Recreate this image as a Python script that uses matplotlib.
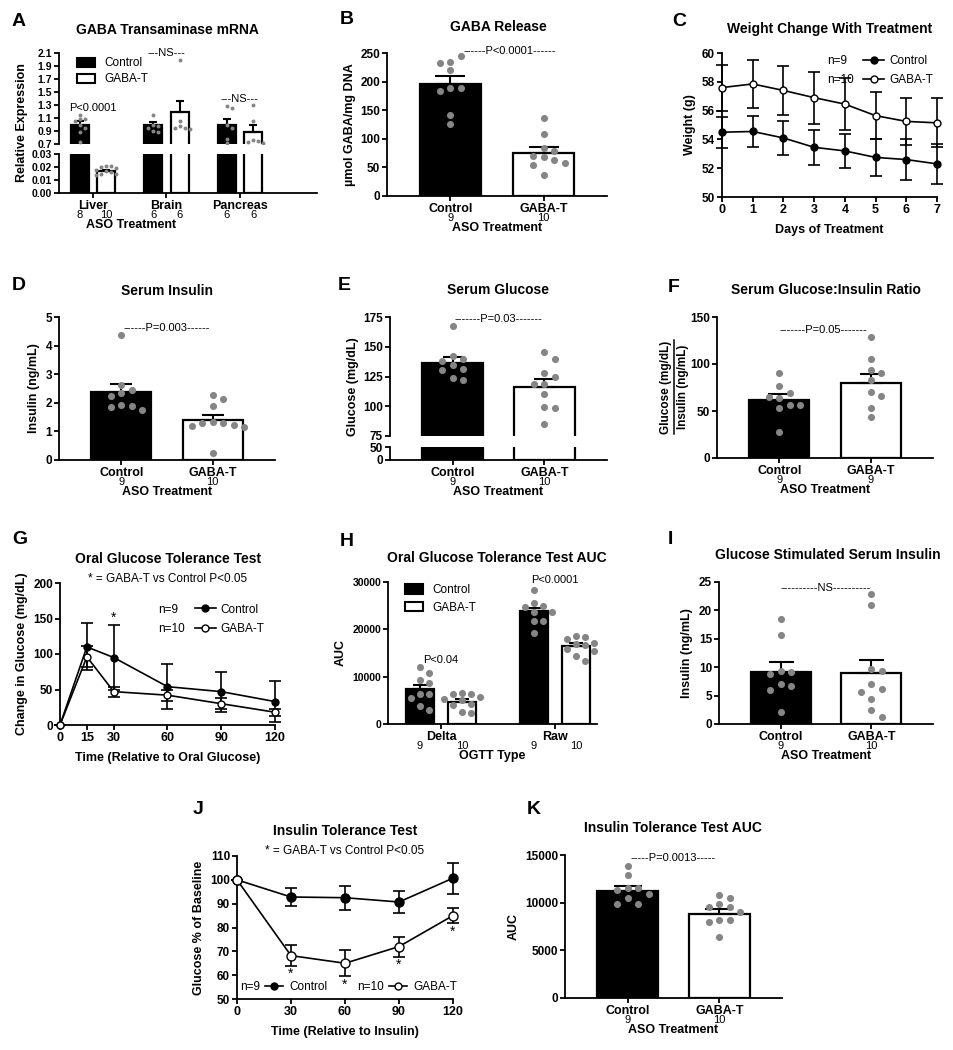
import numpy as np
import matplotlib.pyplot as plt
from matplotlib.lines import Line2D
from matplotlib.patches import Patch

plt.rcParams['font.family'] = ['Liberation Sans', 'DejaVu Sans']
plt.rcParams['font.weight'] = 'bold'
plt.rcParams['axes.labelweight'] = 'bold'
plt.rcParams['axes.linewidth'] = 1.3
plt.rcParams['xtick.major.width'] = 1.3
plt.rcParams['ytick.major.width'] = 1.3
plt.rcParams['xtick.major.size'] = 3.5
plt.rcParams['ytick.major.size'] = 3.5
plt.rcParams['xtick.major.pad'] = 1.5
plt.rcParams['ytick.major.pad'] = 1.5
plt.rcParams['xtick.labelsize'] = 9
plt.rcParams['ytick.labelsize'] = 8.5
plt.rcParams['axes.labelsize'] = 9

# ---------------- data ----------------
# A  GABA transaminase mRNA
a_tissues = ["Liver", "Brain", "Pancreas"]
a_n_ctrl = [8, 6, 6]
a_n_gaba = [10, 6, 6]
a_ctrl_mean = [1.0, 1.0, 1.0]
a_ctrl_sem = [0.05, 0.04, 0.09]
a_gaba_mean = [0.017, 1.2, 0.89]
a_gaba_sem = [0.001, 0.16, 0.11]
a_ctrl_pts = [[1.15, 1.08, 1.08, 1.05, 1.0, 0.95, 0.88, 0.73],
              [1.15, 1.0, 0.98, 0.95, 0.9, 0.88],
              [1.28, 1.25, 1.0, 0.95, 0.78, 0.72]]
a_gaba_pts = [[0.021, 0.021, 0.020, 0.019, 0.018, 0.017, 0.016, 0.015, 0.015, 0.014],
              [2.0, 1.05, 0.97, 0.95, 0.95, 0.93],
              [1.3, 1.05, 0.76, 0.75, 0.73, 0.72]]

groups = ["Control", "GABA-T"]

# B  GABA release
b_mean = [195, 75]
b_sem = [14, 10]
b_ctrl = [235, 244, 232, 220, 189, 189, 183, 141, 126]
b_gaba = [136, 109, 84, 78, 70, 69, 63, 58, 55, 37]
b_n = [9, 10]

# C  weight change
c_days = [0, 1, 2, 3, 4, 5, 6, 7]
c_ctrl = [54.5, 54.55, 54.1, 53.45, 53.2, 52.75, 52.6, 52.3]
c_ctrl_sd = [1.07, 1.07, 1.15, 1.2, 1.2, 1.3, 1.4, 1.4]
c_gaba = [57.6, 57.85, 57.4, 56.9, 56.45, 55.65, 55.25, 55.15]
c_gaba_sd = [1.6, 1.65, 1.7, 1.8, 1.8, 1.65, 1.65, 1.7]

# D  serum insulin
d_mean = [2.38, 1.4]
d_sem = [0.27, 0.18]
d_ctrl = [4.36, 2.62, 2.44, 2.33, 2.24, 1.92, 1.9, 1.86, 1.74]
d_gaba = [2.26, 2.13, 1.9, 1.33, 1.31, 1.31, 1.24, 1.2, 1.14, 0.26]
d_n = [9, 10]

# E  serum glucose
e_mean = [136, 116]
e_sem = [5, 6.5]
e_ctrl = [167.5, 142, 140, 138, 134.5, 131.5, 130.5, 124, 122]
e_gaba = [146, 140, 128, 124.5, 119, 119, 110, 99, 98.5, 85]
e_n = [9, 10]

# F  glucose:insulin ratio
f_mean = [62, 80]
f_sem = [6, 9]
f_ctrl = [90, 77, 69, 64, 64.5, 56.5, 53.5, 56.5, 28]
f_gaba = [129, 105, 93.5, 90, 83, 70, 66, 53, 44]
f_n = [9, 9]

# G  OGTT
g_time = [0, 15, 30, 60, 90, 120]
g_ctrl = [0, 110, 95, 54, 47, 33]
g_ctrl_err = [0, 33, 46, 32, 28, 29]
g_gaba = [0, 96, 47, 42, 30, 18]
g_gaba_err = [0, 15, 7, 8, 8, 5]
g_stars = [30]

# H  OGTT AUC
h_types = ["Delta", "Raw"]
h_ctrl_mean = [7300, 23800]
h_ctrl_sem = [1000, 800]
h_gaba_mean = [4750, 16500]
h_gaba_sem = [500, 600]
h_ctrl_pts = [[12000, 10700, 9300, 8600, 6300, 6300, 5400, 3700, 3000],
              [28400, 25600, 24900, 24700, 23600, 23600, 21700, 21700, 19200]]
h_gaba_pts = [[6600, 6400, 6300, 5600, 5300, 5000, 4300, 4100, 2600, 2400],
              [18500, 18300, 18000, 17200, 16800, 16600, 15800, 15500, 14300, 13300]]
h_n_ctrl = [9, 9]
h_n_gaba = [10, 10]
h_notes = ["P<0.04", "P<0.0001"]

# I  glucose stimulated insulin
i_mean = [9.2, 8.9]
i_sem = [1.7, 2.4]
i_ctrl = [18.5, 15.6, 9.4, 9.2, 8.8, 7.1, 6.7, 5.9, 2.2]
i_gaba = [22.8, 20.9, 9.6, 9.4, 7.1, 6.1, 5.7, 4.4, 2.5, 1.2]
i_n = [9, 10]

# J  ITT
j_time = [0, 30, 60, 90, 120]
j_ctrl = [100, 92.8, 92.5, 90.7, 100.7]
j_ctrl_err = [0, 3.8, 5.0, 4.5, 6.5]
j_gaba = [100, 68.2, 65.0, 72.0, 85.0]
j_gaba_err = [0, 4.3, 5.5, 4.2, 3.3]
j_stars = [30, 60, 90, 120]

# K  ITT AUC
k_mean = [11250, 8850]
k_sem = [450, 450]
k_ctrl = [13800, 12900, 11500, 11500, 11300, 10900, 10500, 9900, 9900]
k_gaba = [10800, 10500, 9860, 9580, 9580, 9050, 8170, 8170, 8000, 6420]
k_n = [9, 10]

# ---------------- helpers ----------------
W, H = 954, 1050
fig = plt.figure(figsize=(W / 100, H / 100), dpi=100)
GREY = '#858585'


def box(l, t, r, b):
    return fig.add_axes([l / W, 1 - b / H, (r - l) / W, (b - t) / H])


def ftext(x, y, s, **kw):
    kw.setdefault('ha', 'center')
    kw.setdefault('va', 'center')
    fig.text(x / W, 1 - y / H, s, **kw)


def clean(ax):
    ax.spines['top'].set_visible(False)
    ax.spines['right'].set_visible(False)


def offsets():
    yield 0
    for k in range(1, 40):
        yield k
        yield -k


def swarm(ax, x0, vals, s=26, step=10.5):
    # simple beeswarm in pixel space so points sit side by side like the original
    disp = ax.transData.transform(np.column_stack([np.full(len(vals), x0), vals]))
    placed = []
    for px_, py_ in disp:
        for k in offsets():
            cand = px_ + k * step
            if all(np.hypot(cand - qx, py_ - qy) >= step * 0.78 for qx, qy in placed):
                break
        placed.append((cand, py_))
    pts = ax.transData.inverted().transform(np.array(placed))
    ax.scatter(pts[:, 0], pts[:, 1], s=s, color=GREY, linewidths=0, zorder=4)


def bar_pair(ax, xs, means, sems, faces, width, cap):
    ax.bar(xs, means, width, color=faces, edgecolor='black', linewidth=1.6, zorder=2)
    ax.errorbar(xs, means, yerr=[np.zeros(len(means)), sems], fmt='none', ecolor='black',
                elinewidth=1.5, capsize=cap, capthick=1.5, zorder=3)


def n_labels(ax, xs, ns):
    for x, n in zip(xs, ns):
        ax.annotate(str(n), xy=(x, 0), xycoords=('data', 'axes fraction'),
                    xytext=(0, -12.5), textcoords='offset points',
                    ha='center', va='top', fontsize=8, fontweight='normal')


def note(ax, x, y, s):
    ax.text(x, y, s, ha='center', va='center', fontsize=8, fontweight='normal')


def two_bar(ax, means, sems, ctrl, gaba, ns, ylim, yticks, cap):
    xs = np.arange(2)
    ax.set_xlim(-0.68, 1.68)
    ax.set_ylim(*ylim)
    bar_pair(ax, xs, means, sems, ['black', 'white'], 0.66, cap)
    swarm(ax, 0, ctrl)
    swarm(ax, 1, gaba)
    ax.set_xticks(xs, groups)
    ax.set_yticks(yticks)
    ax.set_xlabel('ASO Treatment', labelpad=5)
    n_labels(ax, xs, ns)
    clean(ax)


def line_legend(ax, labels_n, anchor, loc):
    empty = Line2D([], [], linestyle='none')
    hc = Line2D([], [], color='black', marker='o', mfc='black', ms=5, lw=1.2)
    hg = Line2D([], [], color='black', marker='o', mfc='white', ms=5, lw=1.2)
    ax.legend([empty, empty, hc, hg], labels_n + groups, ncol=2, loc=loc,
              bbox_to_anchor=anchor, frameon=False, prop=dict(size=8.5, weight='normal'),
              handlelength=1.8, handletextpad=0.4, columnspacing=0.8, labelspacing=0.6)


bar_handles = [Patch(facecolor='black', edgecolor='black', lw=1.5),
               Patch(facecolor='white', edgecolor='black', lw=1.5)]

# ---------------- A ----------------
axA1 = box(59, 53, 317, 144)
axA2 = box(59, 154, 317, 193)
xa = np.arange(3)
offA, wA = 0.18, 0.245
for ax in (axA1, axA2):
    ax.set_xlim(-0.46, 3.05)
    bar_pair(ax, xa - offA, a_ctrl_mean, a_ctrl_sem, 'black', wA, 3)
    bar_pair(ax, xa + offA, a_gaba_mean, a_gaba_sem, 'white', wA, 3)
    clean(ax)
axA1.set_ylim(0.7, 2.1)
axA2.set_ylim(0, 0.03)
for ax in (axA1, axA2):
    for i in range(3):
        swarm(ax, xa[i] - offA, a_ctrl_pts[i], s=8, step=5)
        swarm(ax, xa[i] + offA, a_gaba_pts[i], s=8, step=5)
yt = np.arange(0.7, 2.11, 0.2)
axA1.set_yticks(yt, ['%.1f' % v for v in yt])
axA1.spines['bottom'].set_visible(False)
axA1.set_xticks([])
axA2.set_yticks([0, 0.01, 0.02, 0.03], ['0.00', '0.01', '0.02', '0.03'])
axA1.tick_params(axis='y', labelsize=7.5)
axA2.tick_params(axis='y', labelsize=7.5)
axA2.set_xticks(xa, a_tissues)
axA2.set_xlabel('ASO Treatment', labelpad=5)
axA2.xaxis.label.set_x(0.28)
n_labels(axA2, xa - offA, a_n_ctrl)
n_labels(axA2, xa + offA, a_n_gaba)
axA1.legend(bar_handles, groups, loc='upper left', bbox_to_anchor=(0.03, 1.07), frameon=False,
            prop=dict(size=8.5, weight='normal'), handlelength=1.5, handleheight=0.8, labelspacing=0.35)
note(axA1, 0, 1.25, 'P<0.0001')
note(axA1, 1, 2.1, '---NS---')
note(axA1, 2, 1.4, '---NS---')
ftext(22, 123, 'Relative Expression', rotation=90, fontsize=9)

# ---------------- B ----------------
axB = box(387, 53, 607, 196)
two_bar(axB, b_mean, b_sem, b_ctrl, b_gaba, b_n, (0, 250), range(0, 251, 50), 11)
axB.set_ylabel('\u00b5mol GABA/mg DNA', labelpad=3)
note(axB, 0.64, 253, '------P<0.0001------')

# ---------------- C ----------------
axC = box(722, 53, 937, 197)
axC.errorbar(c_days, c_ctrl, yerr=c_ctrl_sd, fmt='-o', color='black', mfc='black', ms=5,
             lw=1.2, elinewidth=1.2, capsize=4, capthick=1.2, clip_on=False, zorder=3)
axC.errorbar(c_days, c_gaba, yerr=c_gaba_sd, fmt='-o', color='black', mfc='white', ms=5,
             lw=1.2, elinewidth=1.2, capsize=4, capthick=1.2, clip_on=False, zorder=3)
axC.set_xlim(0, 7)
axC.set_ylim(50, 60)
axC.set_xticks(c_days)
axC.set_yticks(range(50, 61, 2))
axC.set_xlabel('Days of Treatment', labelpad=6)
axC.set_ylabel('Weight (g)')
clean(axC)
line_legend(axC, ['n=9', 'n=10'], (1.03, 1.06), 'upper right')

# ---------------- D ----------------
axD = box(59, 317, 275, 460)
two_bar(axD, d_mean, d_sem, d_ctrl, d_gaba, d_n, (0, 5), range(0, 6), 8)
axD.set_ylabel('Insulin (ng/mL)')
note(axD, 0.5, 4.63, '------P=0.003------')

# ---------------- E ----------------
axE1 = box(390, 317, 607, 436)
axE2 = box(390, 447, 607, 460)
xs2 = np.arange(2)
for ax in (axE1, axE2):
    ax.set_xlim(-0.68, 1.68)
    bar_pair(ax, xs2, e_mean, e_sem, ['black', 'white'], 0.66, 7)
    clean(ax)
axE1.set_ylim(75, 175)
axE2.set_ylim(0, 50)
swarm(axE1, 0, e_ctrl)
swarm(axE1, 1, e_gaba)
axE1.set_yticks(range(75, 176, 25))
axE1.spines['bottom'].set_visible(False)
axE1.set_xticks([])
axE2.set_yticks([0, 50])
axE2.set_xticks(xs2, groups)
axE2.set_xlabel('ASO Treatment', labelpad=5)
n_labels(axE2, xs2, e_n)
note(axE1, 0.5, 173, '-------P=0.03-------')
ftext(353, 387, 'Glucose (mg/dL)', rotation=90, fontsize=9)

# ---------------- F ----------------
axF = box(717, 317, 933, 458)
two_bar(axF, f_mean, f_sem, f_ctrl, f_gaba, f_n, (0, 150), range(0, 151, 50), 8)
note(axF, 0.48, 136, '-------P=0.05-------')
ftext(666, 387, 'Glucose (mg/dL)', rotation=90, fontsize=8.5)
ftext(683, 387, 'Insulin (ng/mL)', rotation=90, fontsize=8.5)
fig.add_artist(Line2D([674.5 / W, 674.5 / W], [1 - 434 / H, 1 - 340 / H], color='black', lw=1.1,
                      transform=fig.transFigure))

# ---------------- G ----------------
axG = box(60, 583, 275, 725)
axG.errorbar(g_time, g_ctrl, yerr=g_ctrl_err, fmt='-o', color='black', mfc='black', ms=5,
             lw=1.2, elinewidth=1.2, capsize=4, capthick=1.2, clip_on=False, zorder=3)
axG.errorbar(g_time, g_gaba, yerr=g_gaba_err, fmt='-o', color='black', mfc='white', ms=5,
             lw=1.2, elinewidth=1.2, capsize=4, capthick=1.2, clip_on=False, zorder=3)
axG.set_xlim(0, 120)
axG.set_ylim(0, 200)
axG.set_xticks(g_time)
axG.set_yticks(range(0, 201, 50))
axG.set_xlabel('Time (Relative to Oral Glucose)', labelpad=6)
axG.set_ylabel('Change in Glucose (mg/dL)')
clean(axG)
line_legend(axG, ['n=9', 'n=10'], (1.0, 0.93), 'upper right')
for t in g_stars:
    i = g_time.index(t)
    axG.annotate('*', xy=(t, g_ctrl[i] + g_ctrl_err[i]), xytext=(0, 0), textcoords='offset points',
                 ha='center', va='bottom', fontsize=10, fontweight='normal')

# ---------------- H ----------------
axH = box(388, 582, 597, 724)
xh = np.arange(2)
offH, wH = 0.185, 0.25
axH.set_xlim(-0.465, 1.37)
axH.set_ylim(0, 30000)
bar_pair(axH, xh - offH, h_ctrl_mean, h_ctrl_sem, 'black', wH, 5)
bar_pair(axH, xh + offH, h_gaba_mean, h_gaba_sem, 'white', wH, 5)
for i in range(2):
    swarm(axH, xh[i] - offH, h_ctrl_pts[i], step=9)
    swarm(axH, xh[i] + offH, h_gaba_pts[i], step=9)
axH.set_yticks(range(0, 30001, 10000))
axH.tick_params(axis='y', labelsize=7.5)
axH.set_xticks(xh, h_types)
axH.set_xlabel('OGTT Type', labelpad=5)
axH.set_ylabel('AUC')
n_labels(axH, xh - offH, h_n_ctrl)
n_labels(axH, xh + offH, h_n_gaba)
clean(axH)
axH.legend(bar_handles, groups, loc='upper left', bbox_to_anchor=(0.03, 1.06), frameon=False,
           prop=dict(size=8.5, weight='normal'), handlelength=1.5, handleheight=0.8, labelspacing=0.5)
note(axH, 0, 13600, h_notes[0])
note(axH, 1, 30400, h_notes[1])

# ---------------- I ----------------
axI = box(719, 582, 933, 724)
two_bar(axI, i_mean, i_sem, i_ctrl, i_gaba, i_n, (0, 25), range(0, 26, 5), 9)
axI.set_ylabel('Insulin (ng/mL)')
note(axI, 0.5, 24, '----------NS----------')

# ---------------- J ----------------
axJ = box(237, 856, 453, 999)
axJ.errorbar(j_time, j_ctrl, yerr=j_ctrl_err, fmt='-o', color='black', mfc='black', ms=6.5,
             lw=1.2, elinewidth=1.2, capsize=4, capthick=1.2, clip_on=False, zorder=3)
axJ.errorbar(j_time, j_gaba, yerr=j_gaba_err, fmt='-o', color='black', mfc='white', ms=6.5,
             lw=1.2, elinewidth=1.2, capsize=4, capthick=1.2, clip_on=False, zorder=3)
axJ.set_xlim(0, 120)
axJ.set_ylim(50, 110)
axJ.set_xticks(j_time)
axJ.set_yticks(range(50, 111, 10))
axJ.set_xlabel('Time (Relative to Insulin)', labelpad=6)
axJ.set_ylabel('Glucose % of Baseline')
clean(axJ)
for t in j_stars:
    i = j_time.index(t)
    axJ.annotate('*', xy=(t, j_gaba[i] - j_gaba_err[i]), xytext=(0, -1), textcoords='offset points',
                 ha='center', va='top', fontsize=10, fontweight='normal')
empty = Line2D([], [], linestyle='none')
hc = Line2D([], [], color='black', marker='o', mfc='black', ms=5, lw=1.2)
hg = Line2D([], [], color='black', marker='o', mfc='white', ms=5, lw=1.2)
axJ.legend([hc, empty, hg, empty], ['n=9', 'Control', 'n=10', 'GABA-T'], ncol=4, markerfirst=False,
           loc='lower center', bbox_to_anchor=(0.57, -0.035), frameon=False,
           prop=dict(size=8.5, weight='normal'), handlelength=1.5, handletextpad=0.4,
           columnspacing=0.6)

# ---------------- K ----------------
axK = box(565, 855, 782, 998)
two_bar(axK, k_mean, k_sem, k_ctrl, k_gaba, k_n, (0, 15000), range(0, 15001, 5000), 10)
axK.set_ylabel('AUC')
note(axK, 0.5, 14700, '-----P=0.0013-----')

# ---------------- titles and letters ----------------
titles = [(167, 30, 'GABA Transaminase mRNA'), (498, 27, 'GABA Release'),
          (830, 29, 'Weight Change With Treatment'), (167, 291, 'Serum Insulin'),
          (498, 290, 'Serum Glucose'), (826, 290, 'Serum Glucose:Insulin Ratio'),
          (168, 559, 'Oral Glucose Tolerance Test'), (497, 558, 'Oral Glucose Tolerance Test AUC'),
          (828, 555, 'Glucose Stimulated Serum Insulin'), (345, 831, 'Insulin Tolerance Test'),
          (673, 828, 'Insulin Tolerance Test AUC')]
for x, y, s in titles:
    ftext(x, y, s, fontsize=10)
ftext(168, 579, '* = GABA-T vs Control P<0.05', fontsize=8.5, fontweight='normal')
ftext(345, 851, '* = GABA-T vs Control P<0.05', fontsize=8.5, fontweight='normal')

letters = [(12, 22, 'A'), (340, 20, 'B'), (672, 22, 'C'), (12, 286, 'D'), (338, 286, 'E'),
           (668, 288, 'F'), (12, 539, 'G'), (340, 541, 'H'), (668, 540, 'I'), (193, 810, 'J'),
           (527, 810, 'K')]
for x, y, s in letters:
    ftext(x, y, s, fontsize=14, ha='left')

fig.savefig('out.png', dpi=100)
